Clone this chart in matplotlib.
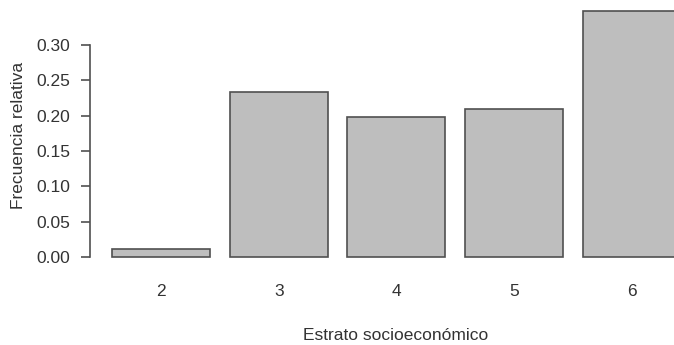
import matplotlib
matplotlib.use("Agg")
import matplotlib.pyplot as plt

# ── Data ─────────────────────────────────────────────
estratos = ["2", "3", "4", "5", "6"]
frecuencia = [0.012, 0.233, 0.198, 0.209, 0.348]
yticks = [0.00, 0.05, 0.10, 0.15, 0.20, 0.25, 0.30]

plt.rcParams["font.family"] = ["Liberation Sans", "DejaVu Sans"]
text_color = "#333333"
fs = 12.5

W, H = 674, 345
fig = plt.figure(figsize=(W / 100, H / 100), dpi=100)

# R barplot layout: width 1, space 0.2 -> plot region in pixels (right side cropped)
ax = fig.add_axes([89.5 / W, 78 / H, 613.9 / W, 266 / H])

pos = [0.2 + 1.2 * i + 0.5 for i in range(len(estratos))]
ax.bar(pos, frecuencia, width=1.0, color="#bebebe", edgecolor="#505050", linewidth=1.2)

ax.set_xlim(-0.032, 6.232)
ax.set_ylim(-0.0139, 0.362)

for s in ["top", "right", "bottom"]:
    ax.spines[s].set_visible(False)
ax.spines["left"].set_bounds(0, 0.30)
ax.spines["left"].set_color("#505050")
ax.spines["left"].set_linewidth(1.2)

ax.set_yticks(yticks)
ax.set_yticklabels([f"{v:.2f}" for v in yticks])
ax.tick_params(axis="y", direction="out", length=6.8, width=1.2, color="#505050",
               pad=7, labelsize=fs, labelcolor=text_color)

ax.set_xticks(pos)
ax.set_xticklabels(estratos)
ax.tick_params(axis="x", length=0, pad=12, labelsize=fs, labelcolor=text_color)

fig.text(396 / W, 5 / H, "Estrato socioeconómico", ha="center", va="baseline",
         fontsize=fs, color=text_color)
fig.text(19 / W, 1 - 135 / H, "Frecuencia relativa", ha="center", va="center",
         rotation=90, fontsize=fs, color=text_color)

fig.savefig("out.png", dpi=100, facecolor="white")
